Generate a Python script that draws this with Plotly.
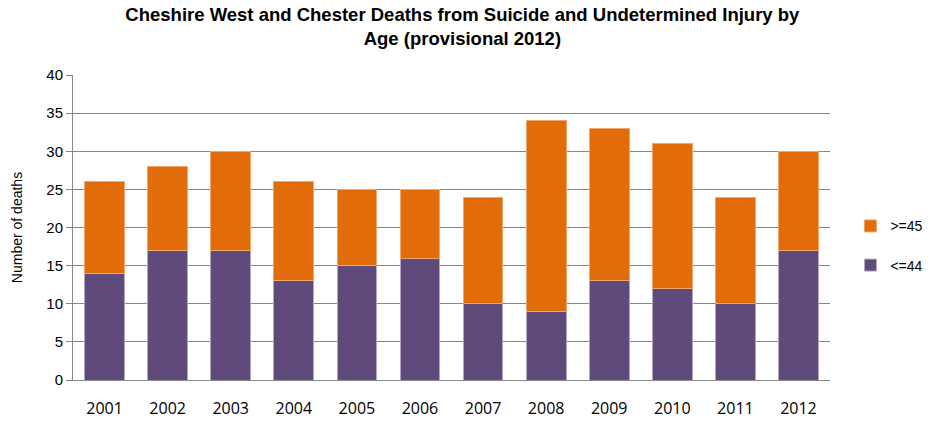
import plotly.graph_objects as go

years = ["2001", "2002", "2003", "2004", "2005", "2006", "2007", "2008", "2009", "2010", "2011", "2012"]
under_45 = [14, 17, 17, 13, 15, 16, 10, 9, 13, 12, 10, 17]
over_45 = [12, 11, 13, 13, 10, 9, 14, 25, 20, 19, 14, 13]
y_ticks = [0, 5, 10, 15, 20, 25, 30, 35, 40]

fig = go.Figure()
fig.add_trace(go.Bar(x=years, y=under_45, name="<=44", marker_color="#604A7B",
                     marker_line=dict(color="#B3A8C4", width=1), legendgroup="a", legendrank=2))
fig.add_trace(go.Bar(x=years, y=over_45, name=">=45", marker_color="#E36C0A",
                     marker_line=dict(color="#F2A66B", width=1), legendgroup="b", legendrank=1))

fig.update_layout(
    width=936, height=425,
    barmode="stack", bargap=0.37,
    plot_bgcolor="white", paper_bgcolor="white",
    margin=dict(l=73, r=106, t=75, b=45, autoexpand=False),
    title=dict(text="<b>Cheshire West and Chester Deaths from Suicide and Undetermined Injury by<br>Age (provisional 2012)</b>",
               x=0.494, xanchor="center", y=0.95, yanchor="top",
               font=dict(family="Liberation Sans, Arial", size=18.5, color="#000000")),
    legend=dict(x=1.027, y=0.44, xanchor="left", yanchor="middle", traceorder="grouped",
                tracegroupgap=18, font=dict(family="Liberation Sans, Arial", size=14, color="#000000"),
                itemwidth=30),
    showlegend=True,
)
fig.update_xaxes(showline=True, linecolor="#888888", linewidth=1, ticks="outside", ticklen=14,
                 tickcolor="rgba(0,0,0,0)", showgrid=False, automargin=False,
                 tickfont=dict(family="Open Sans, Liberation Sans", size=16, color="#000000"))
fig.update_yaxes(range=[0, 40], tickvals=y_ticks, showgrid=True, gridcolor="#858585", gridwidth=1.3,
                 showline=True, linecolor="#888888", linewidth=1, ticks="outside", ticklen=6,
                 tickcolor="#888888", zeroline=False, automargin=False,
                 tickfont=dict(family="Liberation Sans, Arial", size=15, color="#000000"),
                 title=dict(text="Number of deaths", standoff=20,
                            font=dict(family="Liberation Sans, Arial", size=14, color="#000000")))

fig.write_html("out.html")
